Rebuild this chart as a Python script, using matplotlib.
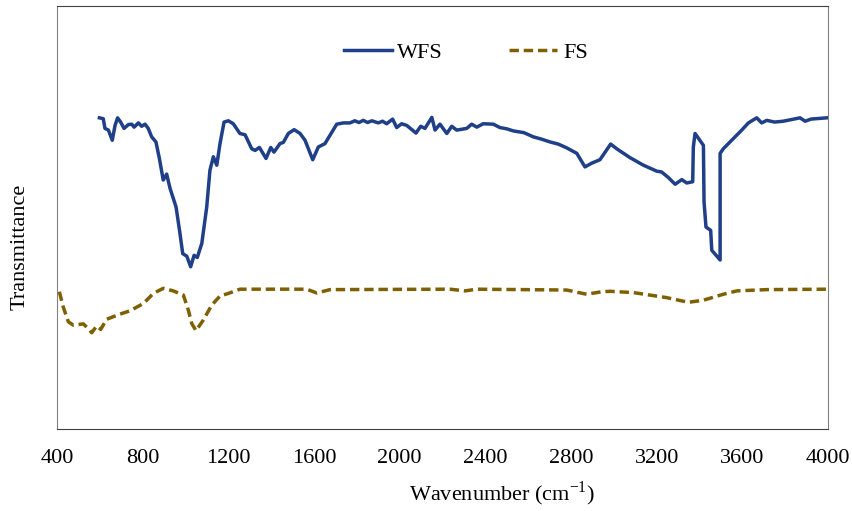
import matplotlib
matplotlib.use('Agg')
from matplotlib import pyplot as plt

# WFS spectrum (wavenumber cm-1, transmittance a.u.)
wfs_wn = [598, 616, 624, 640, 658, 671, 683, 697, 713, 733, 749, 760, 780, 795, 811,
          826, 842, 862, 878, 896, 912, 928, 956, 974, 987, 1006, 1024, 1040, 1055,
          1076, 1099, 1114, 1130, 1146, 1161, 1180, 1200, 1223, 1254, 1278, 1309,
          1325, 1345, 1376, 1398, 1413, 1441, 1457, 1480, 1507, 1535, 1558, 1594,
          1620, 1651, 1675, 1706, 1737, 1768, 1790, 1810, 1830, 1850, 1870, 1900,
          1920, 1939, 1967, 1986, 2009, 2033, 2076, 2098, 2118, 2150, 2165, 2188,
          2220, 2243, 2266, 2313, 2336, 2360, 2390, 2437, 2468, 2500, 2531, 2580,
          2624, 2660, 2702, 2740, 2780, 2827, 2865, 2897, 2935, 2985, 3013, 3075,
          3138, 3200, 3223, 3254, 3286, 3317, 3340, 3368, 3371, 3379, 3418, 3421,
          3430, 3452, 3457, 3496, 3496, 3511, 3550, 3597, 3628, 3667, 3690, 3714,
          3750, 3791, 3830, 3869, 3893, 3920, 3947, 3994]
wfs_t = [73.6, 73.4, 71.1, 70.7, 68.3, 71.8, 73.6, 72.6, 71.1, 72.0, 72.1, 71.4, 72.4,
         71.6, 72.1, 71.1, 69.1, 67.9, 64.0, 58.9, 60.3, 56.9, 52.5, 46.3, 41.5, 40.9,
         38.4, 41.1, 40.6, 43.9, 52.5, 61.2, 64.4, 62.4, 67.5, 72.6, 72.9, 72.2, 69.9,
         69.6, 66.3, 65.9, 66.6, 64.0, 66.6, 65.5, 67.5, 67.8, 69.9, 70.8, 69.9, 68.3,
         63.7, 66.7, 67.5, 69.5, 72.1, 72.4, 72.4, 72.9, 72.5, 73.0, 72.5, 72.9, 72.4,
         72.8, 72.2, 73.3, 71.3, 72.2, 71.8, 70.0, 71.6, 71.1, 73.7, 70.7, 72.1, 69.9,
         71.6, 70.7, 71.1, 72.1, 71.4, 72.2, 72.1, 71.3, 71.0, 70.5, 70.1, 69.1, 68.6,
         67.9, 67.4, 66.5, 65.2, 62.0, 62.9, 63.7, 67.4, 66.3, 64.2, 62.4, 61.0, 60.8,
         59.5, 57.9, 59.0, 58.2, 58.5, 66.7, 69.9, 67.1, 53.7, 47.8, 47.0, 42.3, 40.0,
         65.2, 66.3, 68.3, 70.7, 72.4, 73.6, 72.4, 73.0, 72.6, 72.8, 73.2, 73.6, 72.8,
         73.3, 73.4, 73.6]

# FS spectrum
fs_wn = [411, 429, 453, 476, 523, 546, 562, 585, 604, 632, 694, 741, 803, 850, 896,
         943, 990, 1013, 1029, 1049, 1083, 1122, 1161, 1200, 1254, 1410, 1566, 1613,
         1675, 2235, 2305, 2360, 2780, 2873, 2943, 2982, 3091, 3247, 3348, 3418, 3511,
         3574, 3714, 4000]
fs_t = [32.5, 28.9, 25.4, 24.6, 24.9, 23.8, 22.8, 24.4, 23.6, 26.0, 27.2, 28.0, 29.7,
        32.1, 33.3, 32.7, 31.7, 28.2, 25.0, 23.3, 25.8, 29.3, 31.5, 32.1, 33.1, 33.1,
        33.1, 32.2, 33.0, 33.1, 32.7, 33.1, 32.9, 31.9, 32.5, 32.6, 32.3, 31.1, 30.0,
        30.5, 31.9, 32.7, 33.0, 33.1]

xticks = [400, 800, 1200, 1600, 2000, 2400, 2800, 3200, 3600, 4000]

plt.rcParams['font.family'] = ['Liberation Serif', 'DejaVu Serif']
plt.rcParams['mathtext.fontset'] = 'custom'
plt.rcParams['mathtext.rm'] = 'Liberation Serif'

fig = plt.figure(figsize=(8.52, 5.11), dpi=100)
ax = fig.add_axes([0.0669, 0.160, 0.905, 0.828])

ax.plot(wfs_wn, wfs_t, color='#1f3f88', lw=2.5, label='WFS')
ax.plot(fs_wn, fs_t, color='#7f6000', lw=2.5, linestyle=(0, (2.7, 1.4)), label='FS')

ax.set_xlim(400, 4000)
ax.set_ylim(0, 100)
ax.set_xticks(xticks)
ax.set_yticks([])
ax.tick_params(axis='x', length=0, pad=14, labelsize=16)

for side in ['left', 'right']:
    ax.spines[side].set_color('#808080')
for side in ['top', 'bottom']:
    ax.spines[side].set_color('#404040')

ax.set_xlabel('Wavenumber (cm$^{\\mathregular{-1}}$)', fontsize=16)
ax.xaxis.set_label_coords(0.577, -0.118)
ax.set_ylabel('Transmittance', fontsize=16)
ax.yaxis.set_label_coords(-0.035, 0.43)

ax.legend(loc='center', bbox_to_anchor=(0.53, 0.891), ncol=2, frameon=False,
          fontsize=16, handlelength=2.16, columnspacing=3.0, handletextpad=0.25)

fig.savefig('out.png', dpi=100)
